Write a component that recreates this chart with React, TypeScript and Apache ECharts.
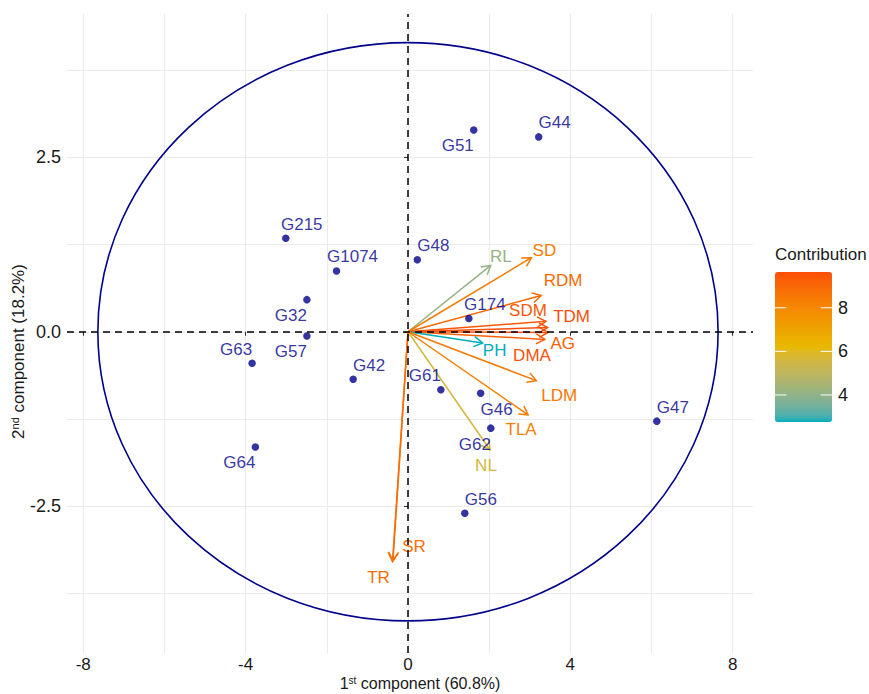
import React, { useEffect, useRef } from 'react';
import * as echarts from 'echarts';

const FONT = "'Liberation Sans', Arial, Helvetica, sans-serif";
const NAVY = '#00008B';
const TEXT = '#1a1a1a';

// axes
const xRange = [-8.4, 8.5];
const yRange = [-4.6, 4.55];
const xTickValues = [-8, -4, 0, 4, 8];
const xGridValues = [-8, -6, -4, -2, 0, 2, 4, 6, 8];
const yTickValues = [-2.5, 0, 2.5];
const yGridValues = [-3.75, -2.5, -1.25, 0, 1.25, 2.5, 3.75];

// individuals (genotypes)
const genotypeNames = ['G44', 'G51', 'G215', 'G1074', 'G48', 'G32', 'G174', 'G57', 'G63', 'G42', 'G61', 'G46', 'G47', 'G62', 'G64', 'G56'];
const genotypePC1 = [3.22, 1.62, -3.01, -1.76, 0.23, -2.49, 1.5, -2.49, -3.84, -1.35, 0.81, 1.79, 6.13, 2.04, -3.76, 1.4];
const genotypePC2 = [2.79, 2.89, 1.34, 0.87, 1.03, 0.46, 0.19, -0.06, -0.45, -0.68, -0.83, -0.88, -1.28, -1.38, -1.65, -2.6];
const genotypeLabelSide = ['ne', 'sw', 'ne', 'ne', 'ne', 'sw', 'ne', 'sw', 'nw', 'ne', 'nw', 'se', 'ne', 'sw', 'sw', 'ne'];

// variables (traits)
const traitNames = ['RL', 'SD', 'RDM', 'SDM', 'TDM', 'AG', 'DMA', 'PH', 'LDM', 'TLA', 'NL', 'SR', 'TR'];
const traitPC1 = [2.04, 3.04, 3.28, 3.4, 3.44, 3.37, 3.45, 1.84, 3.16, 2.96, 2.02, -0.37, -0.38];
const traitPC2 = [0.95, 1.06, 0.52, 0.15, 0.06, -0.11, -0.01, -0.16, -0.7, -1.19, -1.69, -3.28, -3.29];
const traitContribution = [4.1, 8.4, 8.95, 9.4, 9.64, 9.2, 9.55, 2.76, 8.5, 8.25, 5.6, 8.75, 8.8];

// circle radii (x, y) in data units
const circleRadius = [7.64, 4.14];

// legend
const legendTicks = [4, 6, 8];
const gradientColors = ['#00AFBB', '#E7B800', '#FC4E07'];

// label placement (pixels)
const sideOffset: Record<string, number[]> = {
  ne: [16, -14],
  nw: [-16, -14],
  se: [16, 16],
  sw: [-16, 16],
};
const traitLabelOffset: Record<string, number[]> = {
  RL: [10, -9],
  SD: [13, -7],
  RDM: [22, -15],
  SDM: [-18, -11],
  TDM: [24, -11],
  AG: [18, 4],
  DMA: [-16, 23],
  PH: [12, 8],
  LDM: [23, 15],
  TLA: [-7, 15],
  NL: [-4, 16],
  SR: [21, -14],
  TR: [-14, 16],
};

const LEG_LEFT = 775;
const LEG_TOP = 272;
const LEG_W = 57;
const LEG_H = 150;

// ---- colour helpers: interpolate the gradient in CIE Lab (like ggplot) ----
function srgbToLin(c: number) {
  c /= 255;
  return c <= 0.04045 ? c / 12.92 : Math.pow((c + 0.055) / 1.055, 2.4);
}
function linToSrgb(c: number) {
  const v = c <= 0.0031308 ? 12.92 * c : 1.055 * Math.pow(c, 1 / 2.4) - 0.055;
  return Math.max(0, Math.min(255, Math.round(v * 255)));
}
function hexToLab(hex: string) {
  const r = srgbToLin(parseInt(hex.slice(1, 3), 16));
  const g = srgbToLin(parseInt(hex.slice(3, 5), 16));
  const b = srgbToLin(parseInt(hex.slice(5, 7), 16));
  const X = (0.4124 * r + 0.3576 * g + 0.1805 * b) / 0.95047;
  const Y = 0.2126 * r + 0.7152 * g + 0.0722 * b;
  const Z = (0.0193 * r + 0.1192 * g + 0.9505 * b) / 1.08883;
  const f = (t: number) => (t > 0.008856 ? Math.cbrt(t) : 7.787 * t + 16 / 116);
  const fx = f(X), fy = f(Y), fz = f(Z);
  return [116 * fy - 16, 500 * (fx - fy), 200 * (fy - fz)];
}
function labToHex(L: number, a: number, bb: number) {
  const fy = (L + 16) / 116;
  const fx = fy + a / 500;
  const fz = fy - bb / 200;
  const inv = (t: number) => (t * t * t > 0.008856 ? t * t * t : (t - 16 / 116) / 7.787);
  const X = inv(fx) * 0.95047, Y = inv(fy), Z = inv(fz) * 1.08883;
  const r = 3.2406 * X - 1.5372 * Y - 0.4986 * Z;
  const g = -0.9689 * X + 1.8758 * Y + 0.0415 * Z;
  const b = 0.0557 * X - 0.204 * Y + 1.057 * Z;
  const h = (v: number) => linToSrgb(Math.max(0, v)).toString(16).padStart(2, '0');
  return '#' + h(r) + h(g) + h(b);
}
function labRamp(colors: string[], n: number) {
  const labs = colors.map(hexToLab);
  const out: string[] = [];
  for (let i = 0; i < n; i++) {
    const t = (i / (n - 1)) * (labs.length - 1);
    const k = Math.min(Math.floor(t), labs.length - 2);
    const u = t - k;
    const A = labs[k], B = labs[k + 1];
    out.push(labToHex(A[0] + (B[0] - A[0]) * u, A[1] + (B[1] - A[1]) * u, A[2] + (B[2] - A[2]) * u));
  }
  return out;
}

export default function App() {
  const ref = useRef<HTMLDivElement>(null);

  useEffect(() => {
    if (!ref.current) return;
    const chart = echarts.init(ref.current, undefined, { renderer: 'svg' });
    const minC = Math.min(...traitContribution);
    const maxC = Math.max(...traitContribution);

    const gridLine = { show: true, lineStyle: { color: '#EBEBEB', width: 1.1 } };
    const tickLabelStyle = { fontFamily: FONT, fontSize: 17, lineHeight: 17, color: TEXT };

    const legendGraphics: any[] = [
      {
        type: 'text',
        left: LEG_LEFT,
        top: 246,
        z: 100,
        style: { text: 'Contribution', fontFamily: FONT, fontSize: 17, fill: TEXT },
      },
    ];
    legendTicks.forEach((v) => {
      const y = LEG_TOP + ((maxC - v) / (maxC - minC)) * LEG_H;
      legendGraphics.push({
        type: 'text',
        x: LEG_LEFT + LEG_W + 6,
        y,
        z: 100,
        style: { text: String(v), fontFamily: FONT, fontSize: 18, fill: TEXT, verticalAlign: 'middle', align: 'left' },
      });
      legendGraphics.push({
        type: 'line',
        z: 100,
        shape: { x1: LEG_LEFT, y1: y, x2: LEG_LEFT + LEG_W / 5, y2: y },
        style: { stroke: '#ffffff', lineWidth: 1 },
      });
      legendGraphics.push({
        type: 'line',
        z: 100,
        shape: { x1: LEG_LEFT + LEG_W - LEG_W / 5, y1: y, x2: LEG_LEFT + LEG_W, y2: y },
        style: { stroke: '#ffffff', lineWidth: 1 },
      });
    });

    const nameRich = {
      n: { fontFamily: FONT, fontSize: 16, color: TEXT, lineHeight: 17 },
      s: { fontFamily: FONT, fontSize: 10, color: TEXT, lineHeight: 7, verticalAlign: 'top' },
    };
    const yNameRich = {
      n: { fontFamily: FONT, fontSize: 17, color: TEXT, lineHeight: 18 },
      s: { fontFamily: FONT, fontSize: 11, color: TEXT, lineHeight: 7, verticalAlign: 'top' },
    };

    const option: any = {
      animation: false,
      grid: { left: 67, right: 116, top: 14, bottom: 41, containLabel: false, outerBoundsMode: 'none' },
      xAxis: [
        {
          type: 'value',
          min: xRange[0],
          max: xRange[1],
          position: 'bottom',
          axisLine: { show: false },
          axisTick: { show: false, customValues: xGridValues },
          axisLabel: { show: true, customValues: xTickValues, margin: 3, ...tickLabelStyle },
          splitLine: gridLine,
          name: '{n|1}{s|st}{n| component (60.8%)}',
          nameLocation: 'middle',
          nameGap: 22,
          nameMoveOverlap: false,
          nameTextStyle: { rich: nameRich, padding: [0, 0, 0, 20] },
        },
        {
          type: 'value',
          min: xRange[0],
          max: xRange[1],
          position: 'bottom',
          axisLine: { show: false },
          axisTick: { show: true, customValues: xTickValues, length: 4, lineStyle: { color: '#333', width: 1.1 } },
          axisLabel: { show: false },
          splitLine: { show: false },
        },
      ],
      yAxis: [
        {
          type: 'value',
          min: yRange[0],
          max: yRange[1],
          position: 'left',
          axisLine: { show: false },
          axisTick: { show: false, customValues: yGridValues },
          axisLabel: {
            show: true,
            customValues: yTickValues,
            margin: 6,
            formatter: (v: number) => v.toFixed(1),
            ...tickLabelStyle,
            fontSize: 18,
          },
          splitLine: gridLine,
          name: '{n|2}{s|nd}{n| component (18.2%)}',
          nameLocation: 'middle',
          nameGap: 40,
          nameMoveOverlap: false,
          nameRotate: 90,
          nameTextStyle: { rich: yNameRich, padding: [0, 36, 0, 0] },
        },
        {
          type: 'value',
          min: yRange[0],
          max: yRange[1],
          position: 'left',
          axisLine: { show: false },
          axisTick: { show: true, customValues: yTickValues, length: 4, lineStyle: { color: '#333', width: 1.1 } },
          axisLabel: { show: false },
          splitLine: { show: false },
        },
      ],
      visualMap: {
        type: 'continuous',
        seriesIndex: 2,
        dimension: 2,
        min: minC,
        max: maxC,
        inRange: { color: labRamp(gradientColors, 41) },
        calculable: false,
        hoverLink: false,
        left: LEG_LEFT,
        top: LEG_TOP,
        itemWidth: LEG_W,
        itemHeight: LEG_H,
        padding: 0,
        show: true,
      },
      graphic: legendGraphics,
      series: [
        {
          type: 'custom',
          silent: true,
          xAxisIndex: 0,
          yAxisIndex: 0,
          data: [[0, 0]],
          encode: { x: 0, y: 1 },
          renderItem: (_params: any, api: any) => {
            const cx = api.value(0);
            const cy = api.value(1);
            const c = api.coord([cx, cy]);
            const ex = api.coord([cx + circleRadius[0], cy]);
            const ey = api.coord([cx, cy + circleRadius[1]]);
            return {
              type: 'ellipse',
              shape: { cx: c[0], cy: c[1], rx: Math.abs(ex[0] - c[0]), ry: Math.abs(c[1] - ey[1]) },
              style: { fill: 'none', stroke: NAVY, lineWidth: 1.6 },
            };
          },
        },
        {
          type: 'scatter',
          silent: true,
          xAxisIndex: 0,
          yAxisIndex: 0,
          symbol: 'circle',
          symbolSize: 7.5,
          itemStyle: { color: NAVY },
          data: genotypeNames.map((name, i) => ({
            name,
            value: [genotypePC1[i], genotypePC2[i]],
          })),
          label: {
            show: true,
            position: 'inside',
            formatter: (p: any) => p.name,
            fontFamily: FONT,
            fontSize: 17,
            color: NAVY,
          },
          labelLayout: (params: any) => {
            const o = sideOffset[genotypeLabelSide[params.dataIndex]];
            return { dx: o[0], dy: o[1], hideOverlap: false };
          },
          markLine: {
            silent: true,
            symbol: ['none', 'none'],
            label: { show: false },
            lineStyle: { color: '#000', type: [7, 5], width: 1.5 },
            data: [{ xAxis: 0 }, { yAxis: 0 }],
          },
        },
        {
          type: 'custom',
          silent: true,
          xAxisIndex: 0,
          yAxisIndex: 0,
          data: traitNames.map((_, i) => [traitPC1[i], traitPC2[i], traitContribution[i]]),
          encode: { x: 0, y: 1 },
          renderItem: (params: any, api: any) => {
            const o = api.coord([0, 0]);
            const p = api.coord([api.value(0), api.value(1)]);
            const color = api.visual('color');
            const ang = Math.atan2(p[1] - o[1], p[0] - o[0]);
            const L = 10;
            const a = Math.PI / 6;
            const h1 = [p[0] - L * Math.cos(ang - a), p[1] - L * Math.sin(ang - a)];
            const h2 = [p[0] - L * Math.cos(ang + a), p[1] - L * Math.sin(ang + a)];
            const name = traitNames[params.dataIndex];
            const off = traitLabelOffset[name] || [0, 0];
            return {
              type: 'group',
              children: [
                {
                  type: 'line',
                  shape: { x1: o[0], y1: o[1], x2: p[0], y2: p[1] },
                  style: { stroke: color, lineWidth: 1.5 },
                },
                {
                  type: 'polyline',
                  shape: { points: [h1, p, h2] },
                  style: { stroke: color, lineWidth: 1.5, fill: 'none' },
                },
                {
                  type: 'text',
                  x: p[0] + off[0],
                  y: p[1] + off[1],
                  style: {
                    text: name,
                    fill: color,
                    fontFamily: FONT,
                    fontSize: 17,
                    align: 'center',
                    verticalAlign: 'middle',
                  },
                },
              ],
            };
          },
        },
      ],
    };

    chart.setOption(option);
    return () => chart.dispose();
  }, []);

  return <div ref={ref} style={{ position: 'absolute', left: 0, top: 0, width: 869, height: 694 }} />;
}
